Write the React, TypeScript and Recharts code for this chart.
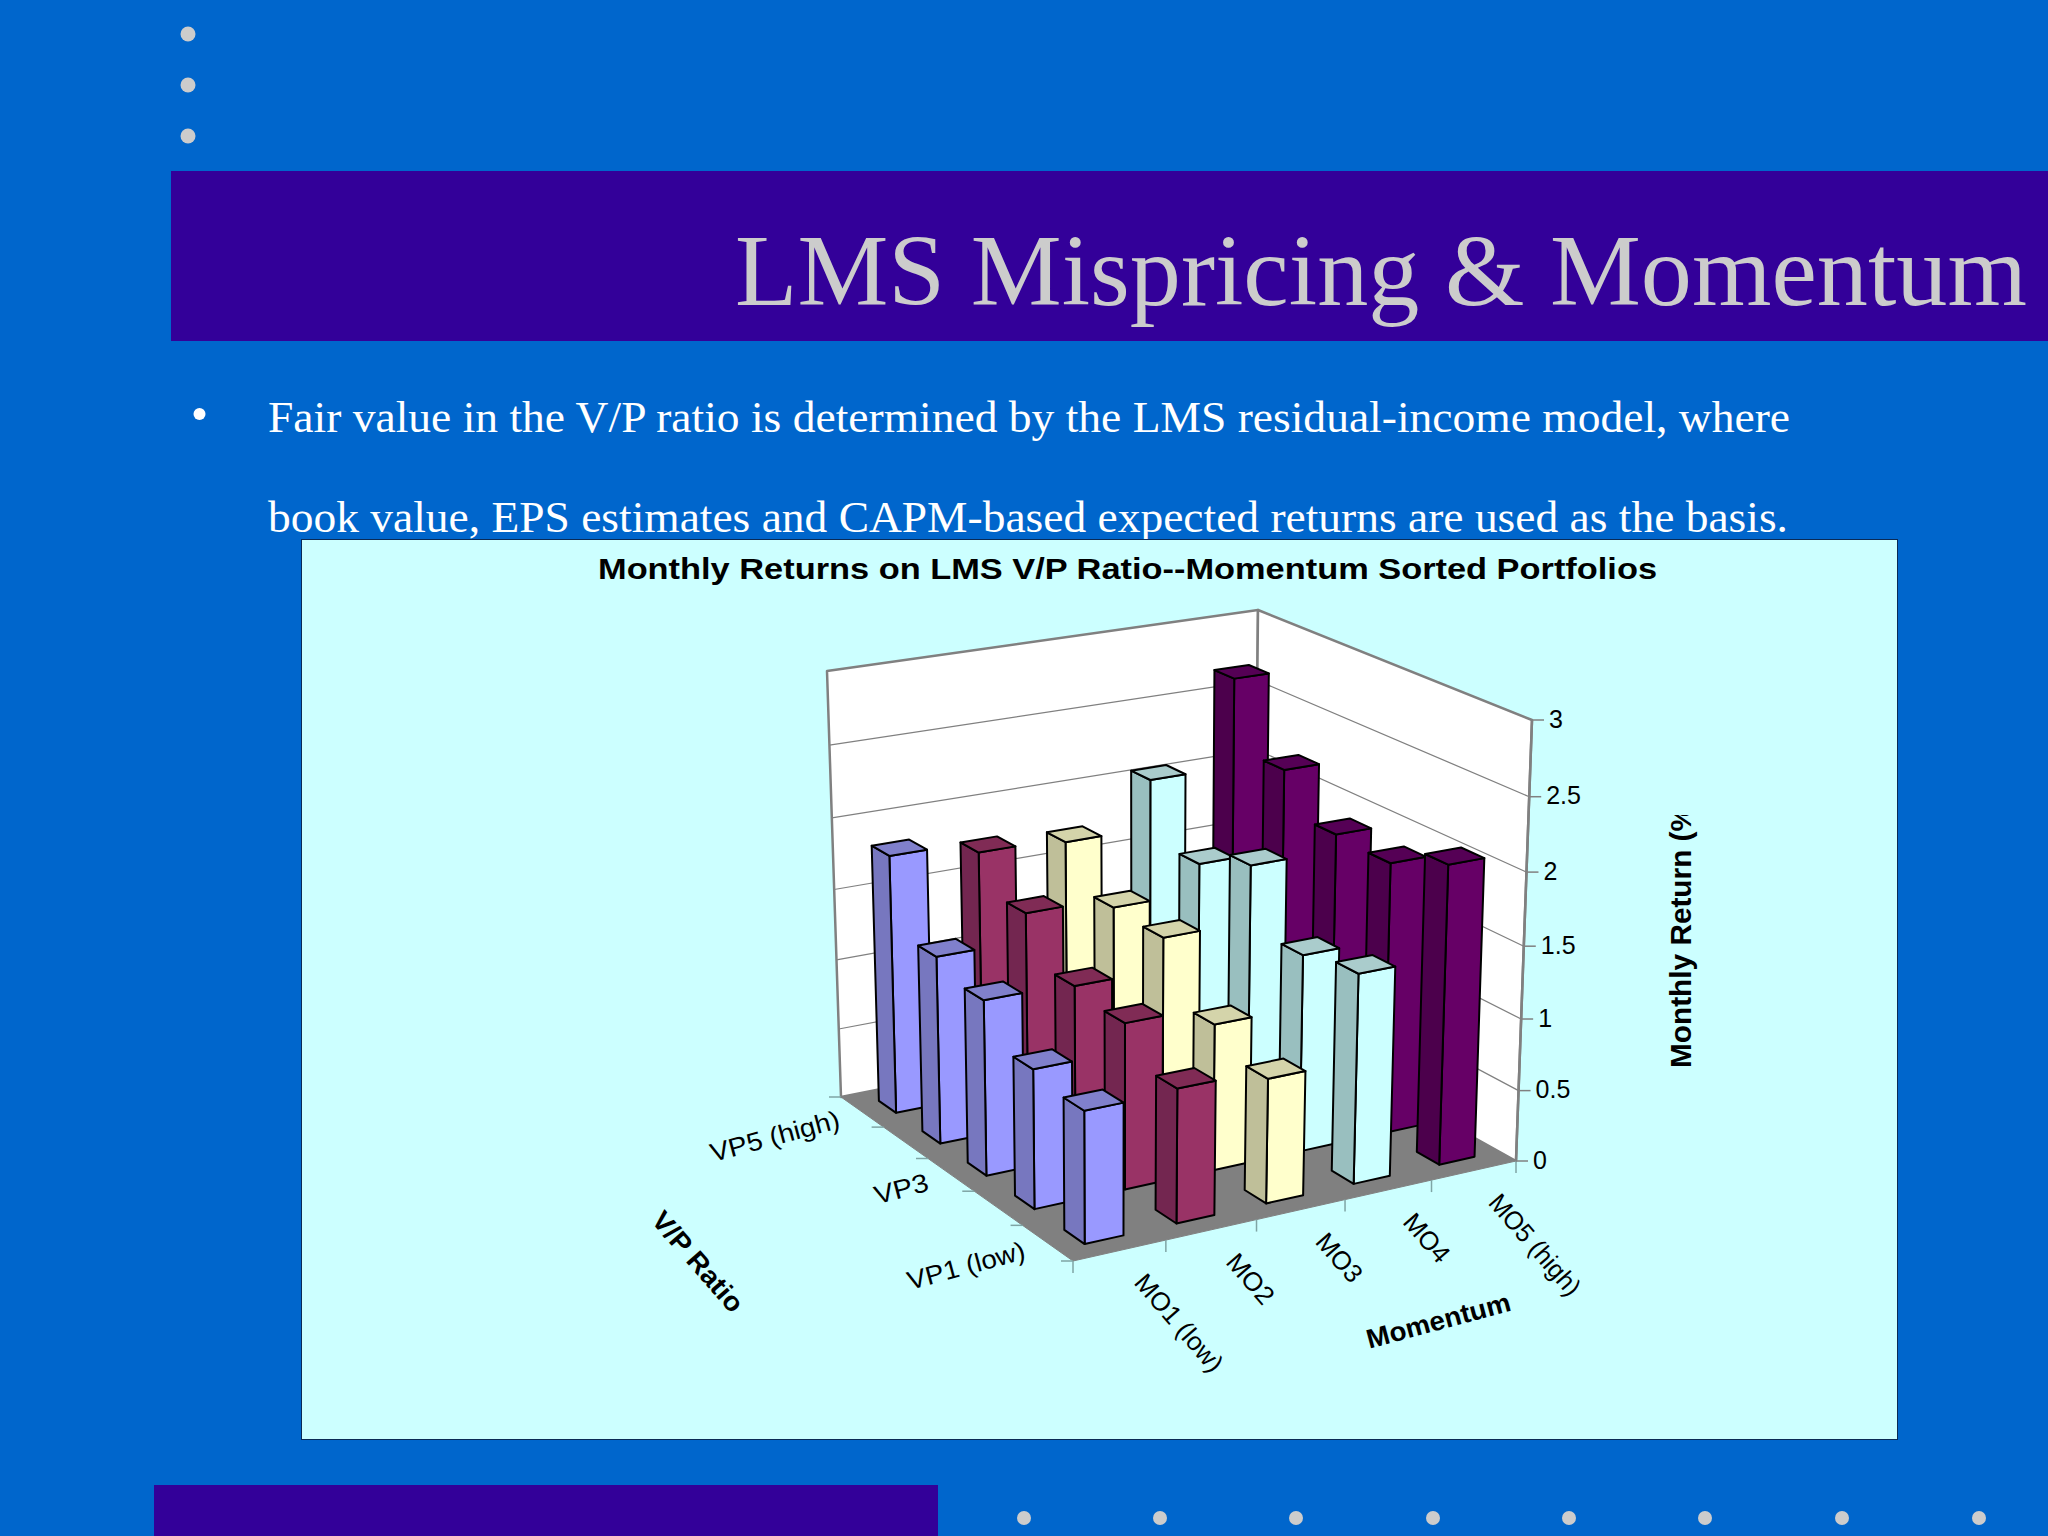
import { Scatter, ScatterChart, XAxis, YAxis } from "recharts";

// monthly return (%) of each momentum bucket, read VP1 (low) -> VP5 (high)
const mo1 = [0.9, 0.96, 1.22, 1.32, 1.83];
const mo2 = [0.92, 1.15, 1.2, 1.51, 1.75];
const mo3 = [0.86, 1.02, 1.42, 1.44, 1.72];
const mo4 = [1.45, 1.38, 1.81, 1.64, 2.06];
const mo5 = [2.07, 1.9, 1.92, 2.2, 2.68];
const series = [mo1, mo2, mo3, mo4, mo5];

const moLabels = ["MO1 (low)", "MO2", "MO3", "MO4", "MO5 (high)"];
const moLengths = [120, 58, 56, 56, 125];
const vpLabels = ["VP1 (low)", "", "VP3", "", "VP5 (high)"];
const vpLengths = [121, 0, 55, 0, 133];
const returnTicks = [0, 0.5, 1, 1.5, 2, 2.5, 3];

// front, side, top
const palette = [
  ["#9999FF", "#7777BF", "#8080CC"],
  ["#993366", "#732650", "#802B55"],
  ["#FFFFCC", "#BFBF99", "#D4D4AA"],
  ["#CCFFFF", "#99BFBF", "#AACCCC"],
  ["#660066", "#4C004C", "#550055"],
];

type P = [number, number];

// unit square -> quad, order: (0,0) (1,0) (1,1) (0,1)
function quadMap(q: P[]) {
  const [[x0, y0], [x1, y1], [x2, y2], [x3, y3]] = q;
  const dx1 = x1 - x2, dx2 = x3 - x2, sx = x0 - x1 + x2 - x3;
  const dy1 = y1 - y2, dy2 = y3 - y2, sy = y0 - y1 + y2 - y3;
  const den = dx1 * dy2 - dx2 * dy1;
  const g = (sx * dy2 - dx2 * sy) / den;
  const h = (dx1 * sy - sx * dy1) / den;
  const a = x1 - x0 + g * x1, b = x3 - x0 + h * x3;
  const d = y1 - y0 + g * y1, e = y3 - y0 + h * y3;
  return (u: number, v: number): P => {
    const w = g * u + h * v + 1;
    return [(a * u + b * v + x0) / w, (d * u + e * v + y0) / w];
  };
}

const floorMap = quadMap([[1073, 1261], [1516, 1161], [1254, 1015], [841, 1097]]);
const ceilMap = quadMap([[1071, 796], [1532, 720], [1258, 610], [827, 671]]);

// u runs along momentum, v along V/P, r is the return in %
function project(u: number, v: number, r: number): P {
  const f = floorMap(u, v);
  const c = ceilMap(u, v);
  const t = r / 3;
  const k = t / (1 + 0.053 * (1 - t));
  return [f[0] + (c[0] - f[0]) * k, f[1] + (c[1] - f[1]) * k];
}

type Face = { pts: P[]; fill?: string; stroke?: string; sw?: number };
type Item = { x: number; y: number; faces: Face[] };

const item = (faces: Face[]): Item => ({ x: faces[0].pts[0][0], y: faces[0].pts[0][1], faces });

const wallStroke = "#808080";
const walls: Item[] = [
  item([{ pts: [project(0, 1, 0), project(1, 1, 0), project(1, 1, 3), project(0, 1, 3)], fill: "#fff", stroke: wallStroke, sw: 2.5 }]),
  item([{ pts: [project(1, 0, 0), project(1, 1, 0), project(1, 1, 3), project(1, 0, 3)], fill: "#fff", stroke: wallStroke, sw: 2.5 }]),
  item([{ pts: [project(0, 0, 0), project(1, 0, 0), project(1, 1, 0), project(0, 1, 0)], fill: "#808080", stroke: wallStroke, sw: 1 }]),
];

const gridLines: Item[] = returnTicks.slice(1, -1).map((r) =>
  item([{ pts: [project(0, 1, r), project(1, 1, r), project(1, 0, r)], stroke: wallStroke, sw: 1.25 }])
);

const barHalfU = 0.21;
const barHalfV = 0.2;
const bars: Item[] = [];
for (let j = 4; j >= 0; j--) {
  for (let i = 4; i >= 0; i--) {
    const r = series[i][j];
    const u0 = (i + 0.5 - barHalfU) / 5, u1 = (i + 0.5 + barHalfU) / 5;
    const v0 = (j + 0.5 - barHalfV) / 5, v1 = (j + 0.5 + barHalfV) / 5;
    const [front, side, top] = palette[i];
    const line = { stroke: "#000", sw: 2 };
    bars.push(
      item([
        { pts: [project(u0, v0, 0), project(u1, v0, 0), project(u1, v0, r), project(u0, v0, r)], fill: front, ...line },
        { pts: [project(u0, v0, 0), project(u0, v1, 0), project(u0, v1, r), project(u0, v0, r)], fill: side, ...line },
        { pts: [project(u0, v0, r), project(u1, v0, r), project(u1, v1, r), project(u0, v1, r)], fill: top, ...line },
      ])
    );
  }
}

const floorTicks: Item[] = [];
for (let k = 0; k <= 5; k++) {
  const a = project(k / 5, 0, 0);
  const b = project(0, k / 5, 0);
  floorTicks.push(item([{ pts: [a, [a[0], a[1] + 12]], stroke: "#7fa5a5", sw: 1.5 }]));
  floorTicks.push(item([{ pts: [b, [b[0] - 12, b[1]]], stroke: "#7fa5a5", sw: 1.5 }]));
}

type Label = { x: number; y: number; text: string; rotate: number; size: number; bold?: boolean; anchor?: string; length?: number; clip?: boolean };

const labels: Label[] = [
  { x: 598, y: 568, text: "Monthly Returns on LMS V/P Ratio--Momentum Sorted Portfolios", rotate: 0, size: 30, bold: true, anchor: "start", length: 1059 },
  { x: 657, y: 1215, text: "V/P Ratio", rotate: 49, size: 27, bold: true, anchor: "start", length: 124 },
  { x: 1367, y: 1340, text: "Momentum", rotate: -15, size: 27, bold: true, anchor: "start", length: 148 },
  { x: 1681, y: 1068, text: "Monthly Return (%", rotate: -90, size: 29, bold: true, anchor: "start", length: 263, clip: true },
];
moLabels.forEach((text, i) => {
  const [x, y] = project((i + 0.5) / 5, 0, 0);
  labels.push({ x: x + 20, y: y + 27, text, rotate: 49, size: 26, anchor: "start", length: moLengths[i] });
});
vpLabels.forEach((text, j) => {
  if (!text) return;
  const [x, y] = project(0, (j + 0.5) / 5, 0);
  labels.push({ x: x - 23, y: y + 7, text, rotate: -15, size: 26, anchor: "end", length: vpLengths[j] });
});

const pathOf = (pts: P[], dx: number, dy: number, closed: boolean) =>
  pts.map((p, i) => `${i ? "L" : "M"}${p[0] + dx} ${p[1] + dy}`).join(" ") + (closed ? " Z" : "");

function FaceShape({ cx, cy, payload }: any) {
  const dx = cx - payload.x;
  const dy = cy - payload.y;
  return (
    <g>
      {payload.faces.map((f: Face, i: number) => (
        <path key={i} d={pathOf(f.pts, dx, dy, !!f.fill)} fill={f.fill ?? "none"} stroke={f.stroke} strokeWidth={f.sw} strokeLinejoin="round" />
      ))}
    </g>
  );
}

function LabelShape({ cx, cy, payload }: any) {
  const l: Label = payload;
  return (
    <g clipPath={l.clip ? "url(#axisClip)" : undefined}>
      <text
        transform={`translate(${cx} ${cy}) rotate(${l.rotate})`}
        textAnchor={l.anchor}
        dominantBaseline="central"
        fontFamily="'Liberation Sans', Arial, sans-serif"
        fontSize={l.size}
        fontWeight={l.bold ? 700 : 400}
        fill="#000"
        textLength={l.length}
        lengthAdjust="spacingAndGlyphs"
      >
        {l.text}
      </text>
    </g>
  );
}

// right hand return axis, it leans with the wall so each tick takes its x from the projection
const returnTickY = returnTicks.map((r) => project(1, 0, r)[1]);

function ReturnTick({ y, index }: any) {
  const ax = project(1, 0, returnTicks[index])[0];
  return (
    <g>
      <line x1={ax} y1={y} x2={ax + 12} y2={y} stroke={wallStroke} strokeWidth={1.5} />
      <text x={ax + 17} y={y - 1.5} dominantBaseline="central" fontFamily="'Liberation Sans', Arial, sans-serif" fontSize={25} fill="#000">
        {returnTicks[index]}
      </text>
    </g>
  );
}

const slideSans = "'Liberation Serif', 'Times New Roman', serif";
const topDots = [34, 85, 136];
const bottomDots = [1024, 1160, 1296, 1433, 1569, 1705, 1842, 1979];

export default function App() {
  return (
    <div style={{ position: "absolute", left: 0, top: 0, width: 2048, height: 1536, overflow: "hidden", background: "#0066CC" }}>
      <svg width={2048} height={1536} style={{ position: "absolute", left: 0, top: 0 }}>
        {topDots.map((y) => (
          <ellipse key={y} cx={188} cy={y} rx={7.5} ry={7.5} fill="#CCCCCC" />
        ))}
        <rect x={171} y={171} width={1877} height={170} fill="#330099" />
        <text x={735} y={305} fontFamily={slideSans} fontSize={101} fill="#CCCCCC" textLength={1292} lengthAdjust="spacingAndGlyphs">
          LMS Mispricing &amp; Momentum
        </text>
        <circle cx={199.5} cy={414} r={6} fill="#fff" />
        <text x={268} y={432} fontFamily={slideSans} fontSize={45} fill="#fff" textLength={1522} lengthAdjust="spacingAndGlyphs">
          Fair value in the V/P ratio is determined by the LMS residual-income model, where
        </text>
        <text x={268} y={532} fontFamily={slideSans} fontSize={45} fill="#fff" textLength={1520} lengthAdjust="spacingAndGlyphs">
          book value, EPS estimates and CAPM-based expected returns are used as the basis.
        </text>
        <rect x={301.5} y={539.5} width={1596} height={900} fill="#CCFFFF" stroke="#0a2a55" strokeWidth={1} />
        <rect x={154} y={1485} width={784} height={51} fill="#330099" />
        {bottomDots.map((x) => (
          <ellipse key={x} cx={x} cy={1518} rx={7} ry={7} fill="#CCCCCC" />
        ))}
      </svg>
      <div style={{ position: "absolute", left: 0, top: 0 }}>
        <ScatterChart width={2049} height={1536} margin={{ top: 0, right: 0, bottom: 0, left: 0 }}>
          <defs>
            <clipPath id="axisClip">
              <rect x={1640} y={815} width={80} height={270} />
            </clipPath>
          </defs>
          <XAxis type="number" dataKey="x" domain={[0, 2048]} hide />
          <YAxis
            type="number"
            dataKey="y"
            orientation="right"
            domain={[0, 1536]}
            reversed
            width={1}
            ticks={returnTickY}
            interval={0}
            axisLine={false}
            tickLine={false}
            tick={<ReturnTick />}
          />
          <Scatter data={walls} shape={FaceShape} isAnimationActive={false} />
          <Scatter data={gridLines} shape={FaceShape} isAnimationActive={false} />
          <Scatter data={floorTicks} shape={FaceShape} isAnimationActive={false} />
          <Scatter data={[item([{ pts: [project(1, 0, 0), project(1, 0, 3)], stroke: wallStroke, sw: 2.5 }])]} shape={FaceShape} isAnimationActive={false} />
          <Scatter data={bars} shape={FaceShape} isAnimationActive={false} />
          <Scatter data={labels} shape={LabelShape} isAnimationActive={false} />
        </ScatterChart>
      </div>
    </div>
  );
}
